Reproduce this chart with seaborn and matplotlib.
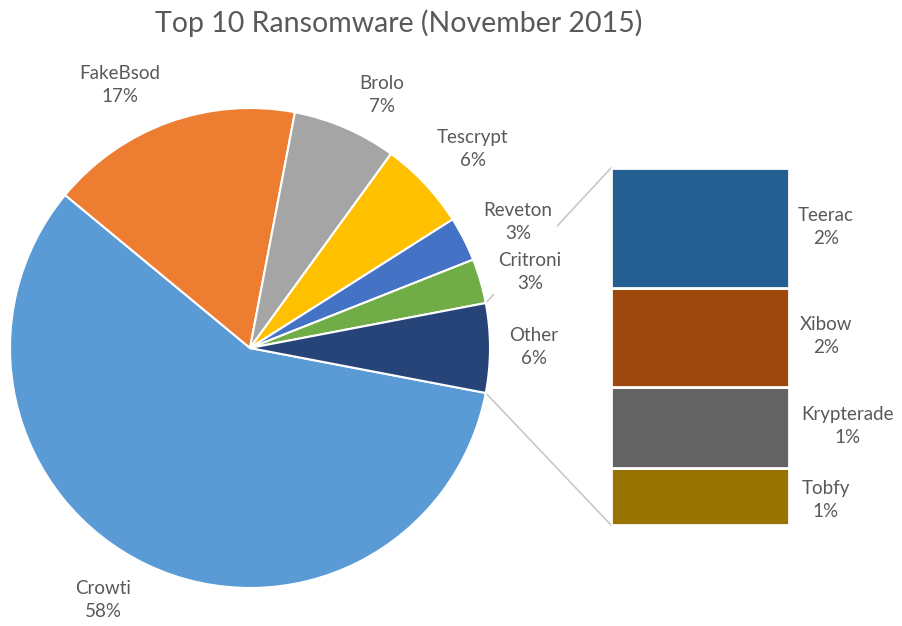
import numpy as np
import matplotlib
matplotlib.use("Agg")
import matplotlib.pyplot as plt
import seaborn as sns

# ---- data ----
main_labels = ["Crowti", "FakeBsod", "Brolo", "Tescrypt", "Reveton", "Critroni", "Other"]
main_values = [58, 17, 7, 6, 3, 3, 6]
main_colors = ["#5B9BD5", "#ED7D31", "#A5A5A5", "#FFC000", "#4472C4", "#70AD47", "#264478"]

sub_labels = ["Teerac", "Xibow", "Krypterade", "Tobfy"]
sub_values = [2.0, 1.65, 1.35, 0.95]
sub_pct = ["2%", "2%", "1%", "1%"]
sub_colors = ["#255E91", "#9E480E", "#636363", "#997300"]

title = "Top 10 Ransomware (November 2015)"

sns.set_theme(style="white")
plt.rcParams["font.family"] = ["Lato", "DejaVu Sans"]
TXT = "#595959"

W, H = 903, 626
fig = plt.figure(figsize=(W / 100, H / 100), dpi=100)
ax = fig.add_axes([0, 0, 1, 1])
ax.set_xlim(0, W)
ax.set_ylim(0, H)
ax.set_aspect("equal")
ax.axis("off")

def Y(py):
    return H - py

cx, cy, r = 250, Y(348), 240
wedges, _ = ax.pie(main_values, colors=main_colors, startangle=-10.8, counterclock=False,
                   center=(cx, cy), radius=r,
                   wedgeprops=dict(edgecolor="white", linewidth=1.5))
ax.set_xlim(0, W)
ax.set_ylim(0, H)
ax.axis("off")

# bar of pie (stacked)
bx0, bx1, by0, by1 = 611, 789, 168, 525
bax = fig.add_axes([bx0 / W, 1 - by1 / H, (bx1 - bx0) / W, (by1 - by0) / H])
total = sum(sub_values)
bottom = 0.0
for lab, val, col in reversed(list(zip(sub_labels, sub_values, sub_colors))):
    sns.barplot(x=[0], y=[val], bottom=bottom, color=col, width=1.0, ax=bax,
                edgecolor="white", linewidth=2, saturation=1)
    bottom += val
bax.set_xlim(-0.5, 0.5)
bax.set_ylim(0, total)
bax.axis("off")

# connector lines from "Other" wedge
ow = wedges[-1]
t_top, t_bot = max(ow.theta1, ow.theta2), min(ow.theta1, ow.theta2)
p_top = (cx + r * np.cos(np.radians(t_top)), cy + r * np.sin(np.radians(t_top)))
p_bot = (cx + r * np.cos(np.radians(t_bot)), cy + r * np.sin(np.radians(t_bot)))
ax.plot([p_top[0], bx0], [p_top[1], Y(by0)], color="#C8C8C8", lw=1.2, zorder=0.5)
ax.plot([p_bot[0], bx0], [p_bot[1], Y(by1)], color="#C8C8C8", lw=1.2, zorder=0.5)

# labels
fs = 13.5
ls = 1.4
main_pos = {
    "Crowti": (103, 600), "FakeBsod": (120, 85), "Brolo": (382, 95),
    "Tescrypt": (473, 149), "Reveton": (518, 222), "Critroni": (530, 272),
    "Other": (534, 347),
}
for lab, val in zip(main_labels, main_values):
    px, py = main_pos[lab]
    ax.text(px, Y(py), f"{lab}\n{val}%", ha="center", va="center", fontsize=fs,
            color=TXT, linespacing=ls,
            bbox=dict(facecolor="white", edgecolor="none", pad=3.5), zorder=3)

sub_pos = {"Teerac": (826, 227), "Xibow": (826, 336), "Krypterade": (848, 426), "Tobfy": (826, 500)}
for lab, p in zip(sub_labels, sub_pct):
    px, py = sub_pos[lab]
    ax.text(px, Y(py), f"{lab}\n{p}", ha="center", va="center", fontsize=fs,
            color=TXT, linespacing=ls, zorder=3)

ax.text(399, Y(23), title, ha="center", va="center", fontsize=20.5, color=TXT)

fig.savefig("out.png", dpi=100, facecolor="white")
